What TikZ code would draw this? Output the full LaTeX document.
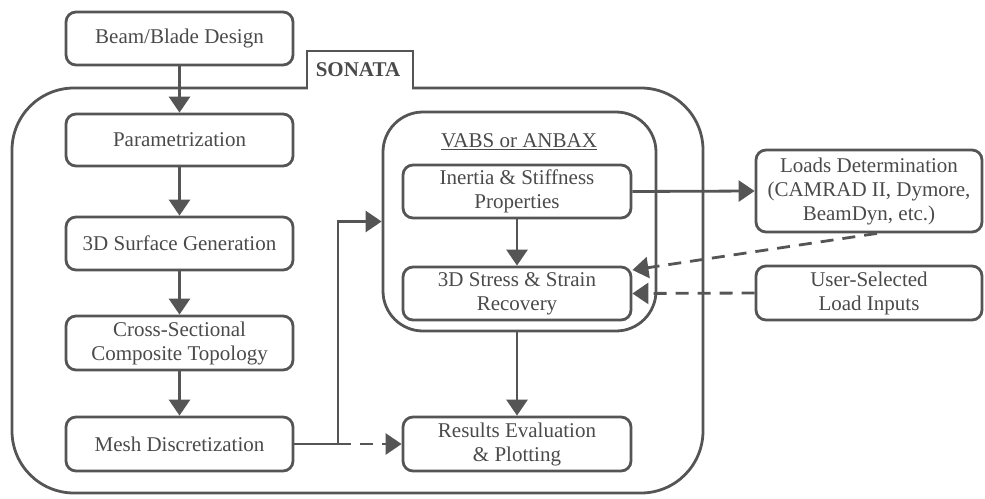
\documentclass[tikz,border=0pt]{standalone}
\usepackage{fontspec}
\setmainfont{Liberation Serif}
\usetikzlibrary{arrows.meta}
\definecolor{lc}{HTML}{555555}
\definecolor{tc}{HTML}{4A4A4A}
\tikzset{
  box/.style={draw=lc, line width=2.8pt, rounded corners=10pt, text=tc, align=center,
    font=\fontsize{21}{24}\selectfont, inner sep=0pt},
  conn/.style={draw=lc, line width=2.8pt, -{Triangle[length=16pt,width=21pt]}},
  dconn/.style={conn, dash pattern=on 13pt off 9pt},
}
\begin{document}
\begin{tikzpicture}[x=1pt,y=-1pt]
\useasboundingbox (0,0) rectangle (985,498);
% outer SONATA frame
\draw[lc, line width=2.8pt, rounded corners=62pt] (12,88) rectangle (703,493);
\fill[white] (308.4,85) rectangle (411.6,91);
\draw[lc, line width=2.8pt] (307,88) -- (307,51) -- (413,51) -- (413,88);
\node[text=tc, font=\fontsize{21}{24}\selectfont\bfseries] (sonata) at (358,70) {SONATA};
% left column
\node[box, minimum width=227pt, minimum height=53pt] (beam) at (179.5,38.5) {Beam/Blade Design};
\node[box, minimum width=227pt, minimum height=52pt] (param) at (179.5,140) {Parametrization};
\node[box, minimum width=227pt, minimum height=53pt] (surf) at (179.5,243.5) {3D Surface Generation};
\node[box, minimum width=227pt, minimum height=54pt] (cross) at (179.5,343) {Cross-Sectional\\Composite Topology};
\node[box, minimum width=227pt, minimum height=54pt] (mesh) at (179.5,444) {Mesh Discretization};
% VABS
\node[draw=lc, line width=2.8pt, rounded corners=40pt, minimum width=273pt, minimum height=219pt] (vabs) at (519.5,221.5) {};
\node[text=tc, font=\fontsize{21}{24}\selectfont] (vabslbl) at (519,142) {\underline{VABS or ANBAX}};
\node[box, minimum width=228pt, minimum height=53pt] (inertia) at (517,191.5) {Inertia \& Stiffness\\Properties};
\node[box, minimum width=228pt, minimum height=53pt] (stress) at (517,293.5) {3D Stress \& Strain\\Recovery};
\node[box, minimum width=228pt, minimum height=54pt] (results) at (517,444) {Results Evaluation\\\& Plotting};
% right
\node[box, minimum width=226pt, minimum height=82pt] (loads) at (869,191) {Loads Determination\\(CAMRAD II, Dymore,\\BeamDyn, etc.)};
\node[box, minimum width=226pt, minimum height=54pt] (user) at (869,293) {User-Selected\\Load Inputs};
% connectors
\draw[conn] (beam) -- (param);
\draw[conn] (param) -- (surf);
\draw[conn] (surf) -- (cross);
\draw[conn] (cross) -- (mesh);
\coordinate (j) at (338,444);
\draw[lc, line width=2.8pt] (mesh.east) -- (j);
\draw[conn] (j) |- (vabs.west);
\draw[dconn] (j) -- (results.west);
\draw[conn] (inertia) -- (stress);
\draw[conn] (inertia.east) -- (loads.west);
\draw[conn] (stress.south |- vabs.south) -- (results.north);
\draw[dconn] ([xshift=8pt]loads.south) -- ([yshift=23.5pt]stress.east);
\draw[dconn] (user.west) -- (stress.east);
\end{tikzpicture}
\end{document}
